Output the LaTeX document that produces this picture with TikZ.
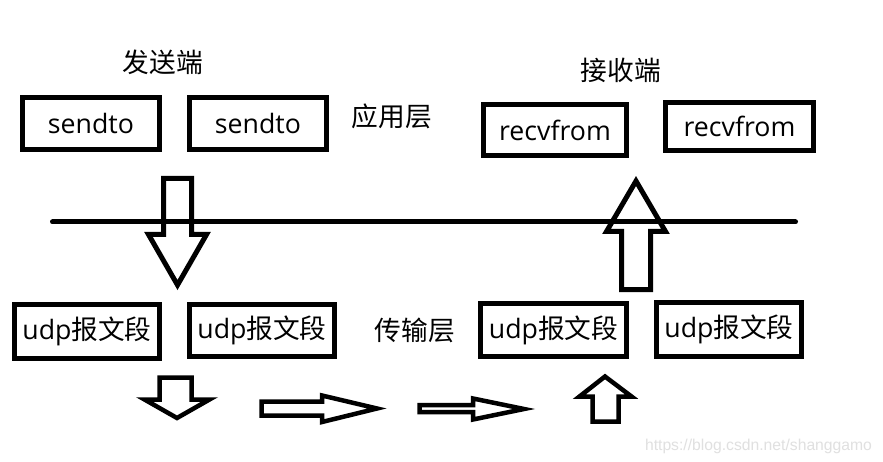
\documentclass[tikz,border=0pt]{standalone}
\usepackage{fontspec}
\setmainfont{Open Sans}
\newfontfamily\cjk{Noto Sans CJK SC}
\newfontfamily\wm{Liberation Sans}
\begin{document}
\begin{tikzpicture}[x=1pt,y=-1pt,
  box/.style={draw=black,line width=5pt,inner sep=0pt,font=\fontsize{26.7}{32}\selectfont},
  lbl/.style={inner sep=0pt,font=\cjk\fontsize{26.7}{32}\selectfont},
  bigarrow/.style={draw=black,line width=5pt,line join=miter},
  smallarrow/.style={draw=black,line width=4.5pt,line join=miter},
  layerline/.style={draw=black,line width=5pt,line cap=round}]
\useasboundingbox[fill=white] (0,0) rectangle (883,462);

% titles and layer labels
\node[lbl] (send) at (163,62) {发送端};
\node[lbl] (recv) at (621,70) {接收端};
\node[lbl] (app) at (392,116) {应用层};
\node[lbl] (trans) at (415,330) {传输层};

% application layer boxes
\node[box,minimum width=137pt,minimum height=52pt] (s1) at (91,123.5) {sendto\hspace{12pt}};
\node[box,minimum width=137pt,minimum height=52pt] (s2) at (258,123.5) {sendto\hspace{12pt}};
\node[box,minimum width=143pt,minimum height=51pt] (r1) at (555,130) {recvfrom};
\node[box,minimum width=148pt,minimum height=48pt] (r2) at (739.5,126.5) {recvfrom};

% transport layer boxes
\node[box,minimum width=145pt,minimum height=54pt] (u1) at (87,331.5) {udp{\cjk 报文段}};
\node[box,minimum width=145pt,minimum height=52pt] (u2) at (262,330.5) {udp{\cjk 报文段}};
\node[box,minimum width=146pt,minimum height=53pt] (u3) at (553.5,330) {udp{\cjk 报文段}};
\node[box,minimum width=145pt,minimum height=54pt] (u4) at (729,329.5) {udp{\cjk 报文段}};

% layer separator
\coordinate (la) at (52.5,222);
\coordinate (lb) at (795.5,222);
\draw[layerline] (la) -- (lb);

% big down arrow (send)
\draw[bigarrow] (163.5,178.5) -- (191.5,178.5) -- (191.5,234.5) -- (206.5,234.5)
  -- (177.5,285) -- (148.5,234.5) -- (163.5,234.5) -- cycle;
% big up arrow (receive)
\draw[bigarrow] (621.5,289.5) -- (650.5,289.5) -- (650.5,231.5) -- (665.5,231.5)
  -- (636,181) -- (606.5,231.5) -- (621.5,231.5) -- cycle;

% small down arrow
\draw[smallarrow] (159.5,377.5) -- (191.5,377.5) -- (191.5,399.5) -- (209.5,399.5)
  -- (177,418) -- (144.5,399.5) -- (159.5,399.5) -- cycle;
% right arrow 1
\draw[smallarrow] (261.5,401.5) -- (322,401.5) -- (322,395.5) -- (377,408.5)
  -- (322,422) -- (322,415.5) -- (261.5,415.5) -- cycle;
% right arrow 2
\draw[smallarrow] (419.5,405) -- (473,405) -- (473,398.5) -- (524,409)
  -- (473,419.5) -- (473,412) -- (419.5,412) -- cycle;
% small up arrow
\draw[smallarrow] (592.5,421.5) -- (618.5,421.5) -- (618.5,396.5) -- (631.5,396.5)
  -- (605,376.5) -- (579.5,396.5) -- (592.5,396.5) -- cycle;

% watermark
\node[inner sep=0pt,text=black!12,font=\wm\fontsize{15.7}{18}\selectfont] (wmk) at (758.5,446) {https://blog.csdn.net/shanggamo};
\end{tikzpicture}
\end{document}
